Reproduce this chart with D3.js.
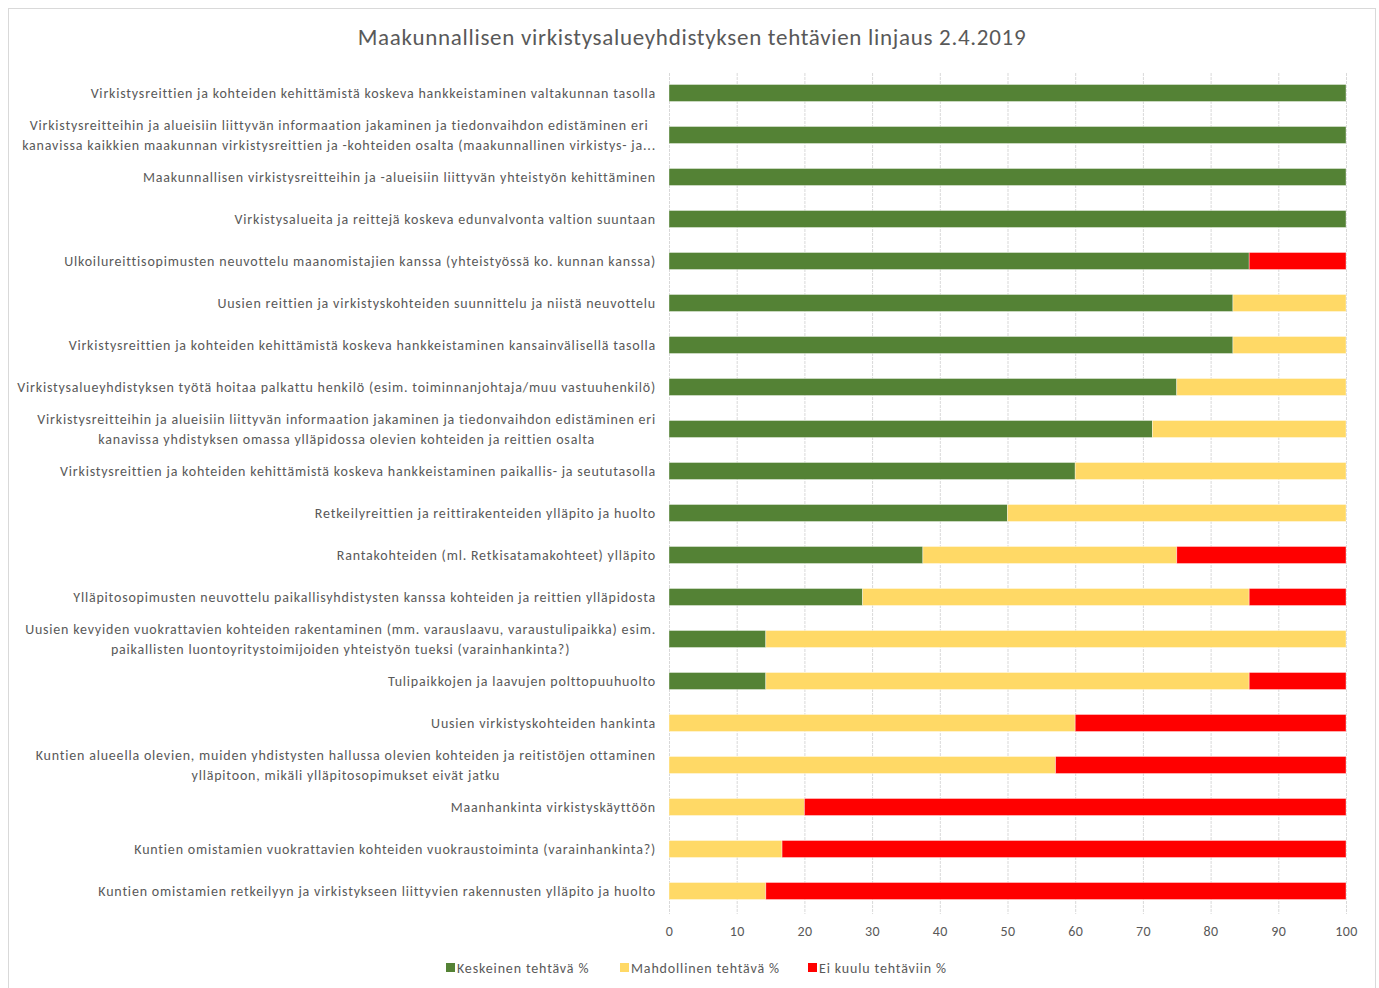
<!DOCTYPE html>
<html><head><meta charset="utf-8">
<script src="https://cdn.jsdelivr.net/npm/d3@7"></script>
<style>body{margin:0;background:#fff}svg{display:block}text{font-family:Carlito,"Liberation Sans Narrow",Lato,sans-serif;fill:#595959}</style>
</head><body><svg id="c" width="1379" height="988"></svg>
<script>
const title = "Maakunnallisen virkistysalueyhdistyksen tehtävien linjaus 2.4.2019";
const categories = [
"Virkistysreittien ja kohteiden kehittämistä koskeva hankkeistaminen valtakunnan tasolla",
"Virkistysreitteihin ja alueisiin liittyvän informaation jakaminen ja tiedonvaihdon edistäminen eri\nkanavissa kaikkien maakunnan virkistysreittien ja -kohteiden osalta (maakunnallinen virkistys- ja...",
"Maakunnallisen virkistysreitteihin ja -alueisiin liittyvän yhteistyön kehittäminen",
"Virkistysalueita ja reittejä koskeva edunvalvonta valtion suuntaan",
"Ulkoilureittisopimusten neuvottelu maanomistajien kanssa (yhteistyössä ko. kunnan kanssa)",
"Uusien reittien ja virkistyskohteiden suunnittelu ja niistä neuvottelu",
"Virkistysreittien ja kohteiden kehittämistä koskeva hankkeistaminen kansainvälisellä tasolla",
"Virkistysalueyhdistyksen työtä hoitaa palkattu henkilö (esim. toiminnanjohtaja/muu vastuuhenkilö)",
"Virkistysreitteihin ja alueisiin liittyvän informaation jakaminen ja tiedonvaihdon edistäminen eri\nkanavissa yhdistyksen omassa ylläpidossa olevien kohteiden ja reittien osalta",
"Virkistysreittien ja kohteiden kehittämistä koskeva hankkeistaminen paikallis- ja seututasolla",
"Retkeilyreittien ja reittirakenteiden ylläpito ja huolto",
"Rantakohteiden (ml. Retkisatamakohteet) ylläpito",
"Ylläpitosopimusten neuvottelu paikallisyhdistysten kanssa kohteiden ja reittien ylläpidosta",
"Uusien kevyiden vuokrattavien kohteiden rakentaminen (mm. varauslaavu, varaustulipaikka) esim.\npaikallisten luontoyritystoimijoiden yhteistyön tueksi (varainhankinta?)",
"Tulipaikkojen ja laavujen polttopuuhuolto",
"Uusien virkistyskohteiden hankinta",
"Kuntien alueella olevien, muiden yhdistysten hallussa olevien kohteiden ja reitistöjen ottaminen\nylläpitoon, mikäli ylläpitosopimukset eivät jatku",
"Maanhankinta virkistyskäyttöön",
"Kuntien omistamien vuokrattavien kohteiden vuokraustoiminta (varainhankinta?)",
"Kuntien omistamien retkeilyyn ja virkistykseen liittyvien rakennusten ylläpito ja huolto"
];
const keskeinen    = [100,100,100,100,85.7,83.3,83.3,75,71.4,60,50,37.5,28.6,14.3,14.3,0,0,0,0,0];
const mahdollinen  = [0,0,0,0,0,16.7,16.7,25,28.6,40,50,37.5,57.1,85.7,71.4,60,57.1,20,16.7,14.3];
const eiKuulu      = [0,0,0,0,14.3,0,0,0,0,0,0,25,14.3,0,14.3,40,42.9,80,83.3,85.7];
const seriesNames  = ["Keskeinen tehtävä %","Mahdollinen tehtävä %","Ei kuulu tehtäviin %"];
const seriesColors = ["#548235","#FFD966","#FF0000"];
const xTicks = [0,10,20,30,40,50,60,70,80,90,100];

const svg = d3.select("#c");
svg.append("rect").attr("x",8.5).attr("y",8.5).attr("width",1367).attr("height",1000)
  .attr("fill","#fff").attr("stroke","#d9d9d9");

svg.append("text").attr("x",692).attr("y",45).attr("text-anchor","middle")
  .style("font-size","23px").style("letter-spacing","0.7px").text(title);

const x = d3.scaleLinear().domain([0,100]).range([669,1346]);
const y = d3.scaleBand().domain(d3.range(categories.length)).range([72,912]).paddingInner(0.595).paddingOuter(0.2975);

// gridlines
svg.append("g").selectAll("line").data(xTicks).join("line")
  .attr("x1",d=>x(d)+0.5).attr("x2",d=>x(d)+0.5).attr("y1",73).attr("y2",914)
  .attr("stroke","#d9d9d9").attr("stroke-width",1).attr("stroke-dasharray","3,1");

// x axis labels
const xAxis = d3.axisBottom(x).tickValues(xTicks).tickSize(0).tickPadding(0);
const ga = svg.append("g").attr("transform","translate(0,926)").call(xAxis);
ga.select(".domain").remove();
ga.selectAll("text").style("font-size","14px").attr("fill","#595959").attr("dy","0.71em")
  .style("font-family",'Carlito,"Liberation Sans Narrow",Lato,sans-serif').style("letter-spacing","0.4px");

// stacked data
const rows = categories.map((c,i)=>({i, k:keskeinen[i], m:mahdollinen[i], e:eiKuulu[i]}));
const stack = d3.stack().keys(["k","m","e"])(rows);
svg.append("g").selectAll("g").data(stack).join("g")
  .attr("fill",(d,i)=>seriesColors[i])
  .selectAll("rect").data(d=>d.filter(p=>p[1]-p[0]>0)).join("rect")
  .attr("x",d=>x(d[0])).attr("width",d=>x(d[1])-x(d[0]))
  .attr("y",d=>y(d.data.i)).attr("height",y.bandwidth())
  .attr("stroke","#fff").attr("stroke-opacity",0.5).attr("stroke-width",0.75);

// category labels
const lab = svg.append("g");
categories.forEach((c,i)=>{
  const lines = c.split("\n");
  const cy = y(i)+y.bandwidth()/2;
  const g = lab.append("g");
  const ts = lines.map((l,j)=> g.append("text").style("font-size","14px").style("letter-spacing","0.8px")
      .attr("dy","0.35em").attr("y", cy + (j-(lines.length-1)/2)*20).text(l));
  const widths = ts.map(t=>t.node().getComputedTextLength());
  const maxW = d3.max(widths);
  const right = 656;
  if(lines.length===1){ ts[0].attr("x",right).attr("text-anchor","end"); }
  else { ts.forEach(t=>t.attr("x",right-maxW/2).attr("text-anchor","middle")); }
});

// legend
const legX = [446,620,808];
const lg = svg.append("g");
seriesNames.forEach((n,i)=>{
  lg.append("rect").attr("x",legX[i]).attr("y",963).attr("width",9).attr("height",9).attr("fill",seriesColors[i]);
  lg.append("text").attr("x",legX[i]+11).attr("y",968).attr("dy","0.35em").style("font-size","14px")
    .style("letter-spacing","0.85px").text(n);
});
</script></body></html>
